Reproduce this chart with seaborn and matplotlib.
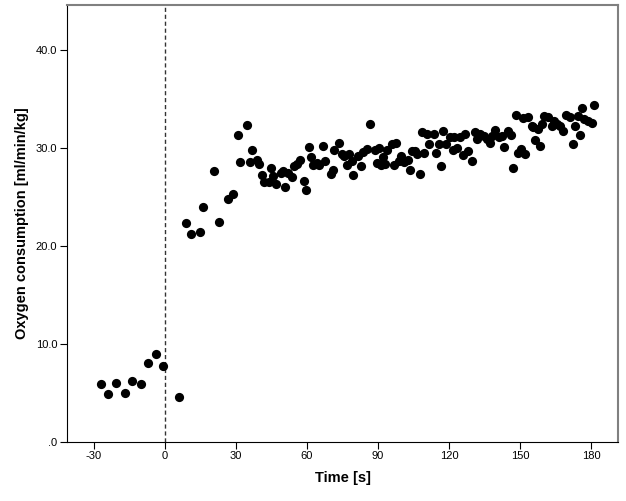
import matplotlib
matplotlib.use("Agg")
import matplotlib.pyplot as plt
import seaborn as sns
import pandas as pd

time_s = [-27.0, -23.9, -20.9, -16.8, -13.9, -10.0, -7.0, -3.9, -1.0, 6.0,
          9.0, 10.9, 14.9, 15.9, 20.9, 22.9, 26.8, 28.8, 30.9, 31.7,
          34.8, 35.8, 36.9, 38.8, 39.7, 40.9, 41.7, 43.8, 44.8, 45.8,
          46.8, 48.9, 49.9, 50.7, 51.8, 53.8, 54.5, 55.9, 56.9, 58.7,
          59.7, 60.8, 61.8, 62.5, 64.3, 65.0, 66.7, 67.7, 70.0, 70.9,
          71.6, 73.6, 74.8, 75.7, 76.7, 77.8, 78.8, 79.6, 81.6, 82.7,
          83.7, 85.4, 86.6, 88.6, 89.6, 90.4, 91.4, 92.1, 92.8, 93.7,
          95.7, 96.6, 97.6, 98.7, 99.6, 101.0, 102.7, 103.7, 104.3, 105.5,
          106.4, 107.6, 108.6, 109.6, 110.7, 111.7, 113.5, 114.6, 115.6, 116.4,
          117.4, 118.7, 120.5, 121.5, 122.3, 123.3, 124.7, 125.8, 126.8, 128.2,
          129.6, 131.1, 131.7, 133.2, 134.6, 136.0, 137.1, 138.1, 139.5, 140.9,
          142.3, 143.4, 145.1, 146.1, 147.2, 148.3, 149.3, 150.4, 151.4, 152.1,
          153.5, 154.9, 155.6, 156.3, 157.4, 158.4, 159.4, 160.3, 161.7, 163.3,
          164.5, 165.5, 166.9, 168.3, 169.3, 171.3, 172.5, 173.2, 174.3, 175.3,
          176.3, 177.1, 178.5, 180.2, 181.3]
vo2 = [5.9, 4.9, 6.0, 5.0, 6.2, 5.9, 8.0, 9.0, 7.7, 4.6,
       22.3, 21.2, 21.4, 24.0, 27.6, 22.4, 24.8, 25.3, 31.3, 28.6,
       32.3, 28.6, 29.8, 28.8, 28.4, 27.2, 26.5, 26.5, 28.0, 27.1,
       26.3, 27.4, 27.6, 26.0, 27.4, 27.0, 28.2, 28.4, 28.8, 26.6,
       25.7, 30.1, 29.1, 28.3, 28.5, 28.3, 30.2, 28.7, 27.3, 27.7,
       29.8, 30.5, 29.4, 29.2, 28.3, 29.4, 28.7, 27.2, 29.2, 28.2,
       29.6, 29.9, 32.4, 29.8, 28.5, 30.0, 28.3, 29.1, 28.4, 29.8,
       30.4, 28.3, 30.5, 28.7, 29.2, 28.6, 28.8, 27.7, 29.7, 29.7,
       29.4, 27.3, 31.6, 29.5, 31.4, 30.4, 31.4, 29.5, 30.4, 28.2,
       31.7, 30.4, 31.1, 29.8, 31.1, 30.0, 31.1, 29.3, 31.4, 29.7,
       28.7, 31.6, 30.9, 31.4, 31.2, 30.9, 30.5, 31.2, 31.8, 31.1,
       31.2, 30.1, 31.7, 31.3, 28.0, 33.4, 29.5, 29.9, 33.1, 29.4,
       33.2, 32.2, 32.1, 30.8, 31.9, 30.2, 32.4, 33.3, 33.2, 32.2,
       32.8, 32.4, 32.2, 31.7, 33.4, 33.2, 30.4, 32.2, 33.3, 31.3,
       34.1, 33.0, 32.8, 32.6, 34.4]

x_ticks = [-30, 0, 30, 60, 90, 120, 150, 180]
y_ticks = [0, 10, 20, 30, 40]
y_tick_labels = [".0", "10.0", "20.0", "30.0", "40.0"]

df = pd.DataFrame({"Time [s]": time_s, "VO2": vo2})

sns.set_theme(style="ticks")
plt.rcParams["font.family"] = ["Liberation Sans", "DejaVu Sans"]

fig = plt.figure(figsize=(6.26, 5.01), dpi=100)
ax = fig.add_axes([0.107, 0.1184, 0.8807, 0.8716])

sns.scatterplot(data=df, x="Time [s]", y="VO2", ax=ax, color="black",
                s=44, edgecolor="black", linewidth=0, zorder=3)

ax.axvline(0, color="#333333", linestyle=(0, (3, 2)), linewidth=1.0, zorder=2)

ax.set_xlim(-41.4, 191.5)
ax.set_ylim(0, 44.6)
ax.set_xticks(x_ticks)
ax.set_xticklabels([str(t) for t in x_ticks])
ax.set_yticks(y_ticks)
ax.set_yticklabels(y_tick_labels)

ax.tick_params(axis="both", direction="out", length=5, width=0.8, color="black",
               labelsize=8, labelcolor="black", pad=2)

for side in ["left", "bottom"]:
    ax.spines[side].set_color("black")
    ax.spines[side].set_linewidth(0.8)
for side in ["top", "right"]:
    ax.spines[side].set_visible(True)
    ax.spines[side].set_color("#808080")
    ax.spines[side].set_linewidth(1.5)

ax.set_xlabel("Time [s]", fontsize=10.5, fontweight="bold", color="black", labelpad=7)
ax.set_ylabel("Oxygen consumption [ml/min/kg]", fontsize=10.5, fontweight="bold",
              color="black", labelpad=5)

fig.savefig("out.png", dpi=100)
